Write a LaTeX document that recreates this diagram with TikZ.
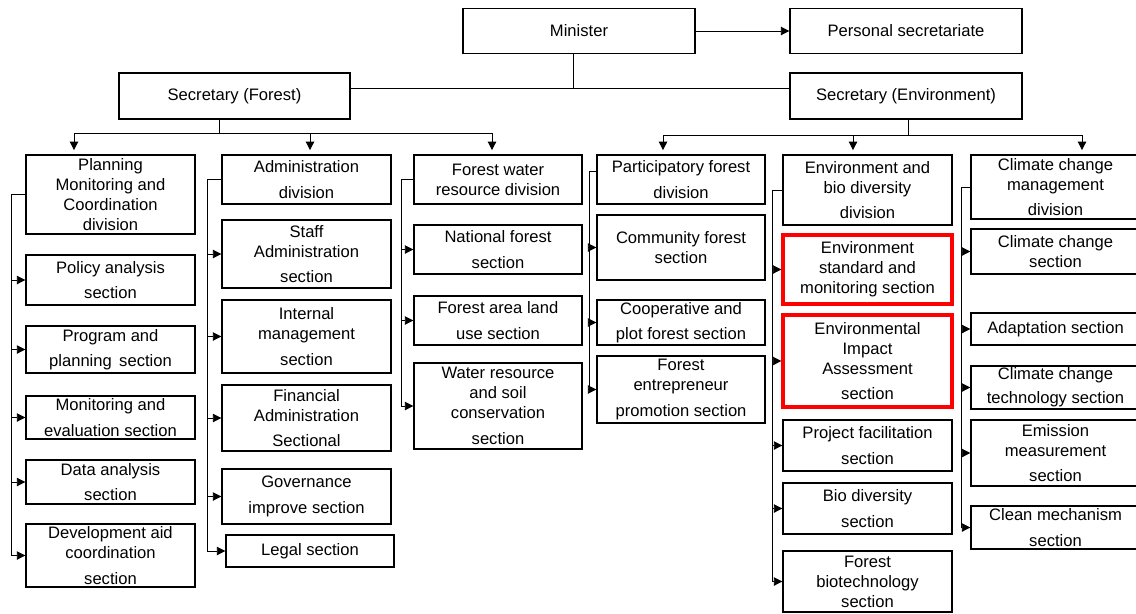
\documentclass[tikz,border=0pt]{standalone}
\usepackage{fontspec}
\setmainfont{Liberation Sans}
\usetikzlibrary{arrows.meta}
\tikzset{
  box/.style={draw, line width=1pt, align=center, inner sep=1pt, font=\fontsize{11.8}{14.2}\selectfont},
  hot/.style={box, draw=red, line width=2.4pt},
  wh/.style 2 args={minimum width=#1*0.025cm, minimum height=#2*0.025cm},
  link/.style={line width=0.6pt},
  arr/.style={link, -{Triangle[length=6pt,width=6pt]}},
}
\begin{document}
\begin{tikzpicture}[x=0.025cm,y=-0.025cm]
\useasboundingbox (0,0) rectangle (1136,613);
% top levels
\node[box,wh={232}{45}] (min) at (579,31) {Minister};
\node[box,wh={232}{45}] (ps) at (906,31) {Personal secretariate};
\node[box,wh={231}{46}] (sf) at (234.5,96) {Secretary (Forest)};
\node[box,wh={232}{46}] (se) at (906,96) {Secretary (Environment)};
% column 1
\node[box,wh={169}{79}] (pmc) at (110.5,194.5) {Planning\\Monitoring and\\Coordination\\division};
\node[box,wh={169}{50}] (pol) at (110.5,280) {Policy analysis\\[4pt]section};
\node[box,wh={169}{47}] (prog) at (110.5,349.5) {Program and\\[4pt]planning\ \,section};
\node[box,wh={169}{43}] (mon) at (110.5,417.5) {Monitoring and\\[4pt]evaluation section};
\node[box,wh={169}{44}] (data) at (110.5,482) {Data analysis\\[4pt]section};
\node[box,wh={169}{63}] (dev) at (110.5,555.5) {Development aid\\coordination\\[4pt]section};
% column 2
\node[box,wh={169}{49}] (adm) at (306.5,179.5) {Administration\\[4pt]division};
\node[box,wh={169}{68}] (staff) at (306.5,254) {Staff\\Administration\\[4pt]section};
\node[box,wh={169}{73}] (intm) at (306.5,336.5) {Internal\\management\\[4pt]section};
\node[box,wh={169}{66}] (fin) at (306.5,418) {Financial\\Administration\\[4pt]Sectional};
\node[box,wh={169}{55}] (gov) at (306.5,496.5) {Governance\\[4pt]improve section};
\node[box,wh={168}{32}] (legal) at (310,551) {Legal section};
% column 3
\node[box,wh={168}{49}] (fwr) at (498,179.5) {Forest water\\resource division};
\node[box,wh={168}{49}] (nat) at (498,249.5) {National forest\\[4pt]section};
\node[box,wh={168}{49}] (area) at (498,320.5) {Forest area land\\[4pt]use section};
\node[box,wh={168}{86}] (wsc) at (498,406) {Water resource\\and soil\\conservation\\[4pt]section};
% column 4
\node[box,wh={168}{49}] (part) at (681,179.5) {Participatory forest\\[4pt]division};
\node[box,wh={168}{65}] (comm) at (681,247.5) {Community forest\\section};
\node[box,wh={168}{45}] (coop) at (681,322.5) {Cooperative and\\[4pt]plot forest section};
\node[box,wh={168}{67}] (entr) at (681,389.5) {Forest\\entrepreneur\\[4pt]promotion section};
% column 5
\node[box,wh={169}{70}] (ebd) at (867.5,190) {Environment and\\bio diversity\\[4pt]division};
\node[hot,wh={169}{69}] (esm) at (867.5,269.5) {Environment\\standard and\\monitoring section};
\node[hot,wh={169}{92}] (eia) at (867.5,361) {Environmental\\Impact\\Assessment\\[4pt]section};
\node[box,wh={169}{51}] (proj) at (867.5,445.5) {Project facilitation\\[4pt]section};
\node[box,wh={169}{51}] (bio) at (867.5,508.5) {Bio diversity\\[4pt]section};
\node[box,wh={169}{61}] (biot) at (867.5,581.5) {Forest\\biotechnology\\section};
% column 6
\node[box,wh={169}{64}] (ccm) at (1055.5,187) {Climate change\\management\\[3pt]division};
\node[box,wh={169}{45}] (ccs) at (1055.5,251.5) {Climate change\\section};
\node[box,wh={169}{32}] (adap) at (1055.5,329) {Adaptation section};
\node[box,wh={169}{43}] (cct) at (1055.5,387.5) {Climate change\\[3pt]technology section};
\node[box,wh={169}{66}] (emis) at (1055.5,453) {Emission\\measurement\\[4pt]section};
\node[box,wh={169}{43}] (clean) at (1055.5,527.5) {Clean mechanism\\[4pt]section};
% minister links
\coordinate (jm) at (573,88);
\draw[link] (min.south -| jm) -- (jm);
\draw[link] (sf.east |- jm) -- (se.west |- jm);
\draw[arr] (min.east) -- (ps.west);
% forest branch
\coordinate (jf) at (219,133);
\coordinate (f1) at (74,133);
\coordinate (f2) at (310,133);
\coordinate (f3) at (492,133);
\draw[link] (sf.south -| jf) -- (jf);
\draw[link] (f1) -- (f3);
\foreach \a/\b in {f1/pmc,f2/adm,f3/fwr}
  \draw[arr,shorten >=3pt] (\a) -- (\a |- \b.north);
% environment branch
\coordinate (je) at (908,135);
\coordinate (e1) at (663,135);
\coordinate (e2) at (853,135);
\coordinate (e3) at (1082,135);
\draw[link] (se.south -| je) -- (je);
\draw[link] (e1) -- (e3);
\foreach \a/\b in {e1/part,e2/ebd,e3/ccm}
  \draw[arr,shorten >=3pt] (\a) -- (\a |- \b.north);
% column buses
\coordinate (b1) at (11,0);
\coordinate (b2) at (207,0);
\coordinate (b3) at (401,0);
\coordinate (b4) at (589,0);
\coordinate (b5) at (772,0);
\coordinate (b6) at (961,0);
\draw[link] (pmc.west) -- (pmc.west -| b1) -- (dev.west -| b1);
\foreach \n in {pol,prog,mon,data,dev}
  \draw[arr] (\n.west -| b1) -- (\n.west);
\draw[link] (adm.west) -- (adm.west -| b2) -- (legal.west -| b2);
\foreach \n in {staff,intm,fin,gov,legal}
  \draw[arr] (\n.west -| b2) -- (\n.west);
\draw[link] (fwr.west) -- (fwr.west -| b3) -- (wsc.west -| b3);
\foreach \n in {nat,area,wsc}
  \draw[arr] (\n.west -| b3) -- (\n.west);
\draw[link] (part.west |- 0,171) -- (b4 |- 0,171) -- (entr.west -| b4);
\foreach \n in {comm,coop,entr}
  \draw[arr] (\n.west -| b4) -- (\n.west);
\draw[link] (ebd.west) -- (ebd.west -| b5) -- (biot.west -| b5);
\foreach \n in {esm,eia,proj,bio,biot}
  \draw[arr] (\n.west -| b5) -- (\n.west);
\draw[link] (ccm.west) -- (ccm.west -| b6) -- (clean.west -| b6);
\foreach \n in {ccs,adap,cct,emis,clean}
  \draw[arr] (\n.west -| b6) -- (\n.west);
\end{tikzpicture}
\end{document}
